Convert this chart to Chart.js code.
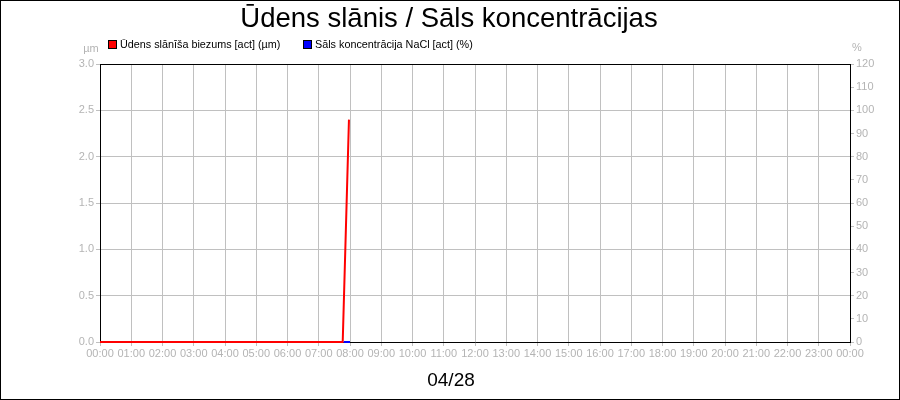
<!DOCTYPE html>
<html>
<head>
<meta charset="utf-8">
<script src="https://cdn.jsdelivr.net/npm/chart.js@4/dist/chart.umd.min.js"></script>
<style>
  html, body { margin: 0; padding: 0; background: #fff; }
  #wrap { width: 900px; height: 400px; position: relative; }
</style>
</head>
<body>
<div id="wrap"><canvas id="chart"></canvas></div>
<script>
// time in minutes from midnight
const hourLabels = ['00:00', '01:00', '02:00', '03:00', '04:00', '05:00', '06:00', '07:00',
    '08:00', '09:00', '10:00', '11:00', '12:00', '13:00', '14:00', '15:00', '16:00', '17:00',
    '18:00', '19:00', '20:00', '21:00', '22:00', '23:00', '00:00'];

const waterTimes = [0, 466, 478];
const waterValues = [0, 0, 2.4];

const saltTimes = [468, 480];
const saltValues = [0, 0];

const chartTitle = 'Ūdens slānis / Sāls koncentrācijas';
const dateLabel = '04/28';
const seriesNames = ['Ūdens slānīša biezums [act] (µm)', 'Sāls koncentrācija NaCl [act] (%)'];
const seriesColors = ['#ff0000', '#0000ff'];

const FONT = '"Liberation Sans", Arial, sans-serif';
const TICK_COLOR = '#b4b4b4';
const GRID_COLOR = '#c0c0c0';

const toPoints = (xs, ys) => xs.map((x, i) => ({ x: x, y: ys[i] }));

// title, legend, units, frame
const decorPlugin = {
    id: 'decor',
    beforeDatasetsDraw(chart) {
        const { ctx, chartArea } = chart;
        ctx.save();
        ctx.strokeStyle = '#000';
        ctx.lineWidth = 1;
        ctx.beginPath();
        ctx.moveTo(chartArea.left, chartArea.top + 0.5);
        ctx.lineTo(chartArea.right, chartArea.top + 0.5);
        ctx.stroke();
        ctx.restore();
    },
    afterDraw(chart) {
        const { ctx } = chart;
        ctx.save();
        ctx.strokeStyle = '#000';
        ctx.lineWidth = 1;
        ctx.strokeRect(0.5, 0.5, chart.width - 1, chart.height - 1);

        ctx.fillStyle = '#000';
        ctx.textAlign = 'center';
        ctx.textBaseline = 'middle';
        ctx.font = '27.5px ' + FONT;
        ctx.fillText(chartTitle, 449, 19);
        ctx.font = '19px ' + FONT;
        ctx.fillText(dateLabel, 451, 381);

        // legend
        ctx.font = '10.8px ' + FONT;
        ctx.textAlign = 'left';
        const legendX = [108, 303];
        seriesNames.forEach((name, i) => {
            ctx.fillStyle = seriesColors[i];
            ctx.fillRect(legendX[i], 40, 9, 9);
            ctx.strokeStyle = '#000';
            ctx.strokeRect(legendX[i] + 0.5, 40.5, 8, 8);
            ctx.fillStyle = '#000';
            ctx.fillText(name, legendX[i] + 12, 45);
        });

        // axis units
        ctx.fillStyle = TICK_COLOR;
        ctx.textAlign = 'center';
        ctx.font = '11px ' + FONT;
        ctx.fillText('µm', 91, 49);
        ctx.fillText('%', 857, 48);
        ctx.restore();
    }
};

new Chart(document.getElementById('chart'), {
    type: 'line',
    data: {
        datasets: [
            {
                label: seriesNames[0],
                data: toPoints(waterTimes, waterValues),
                borderColor: seriesColors[0],
                borderWidth: 2,
                pointRadius: 0,
                tension: 0,
                clip: false,
                order: 1,
                yAxisID: 'y'
            },
            {
                label: seriesNames[1],
                data: toPoints(saltTimes, saltValues),
                borderColor: seriesColors[1],
                borderWidth: 2,
                pointRadius: 0,
                tension: 0,
                clip: false,
                order: 0, // blue sits on top of the red spike's foot
                yAxisID: 'y1'
            }
        ]
    },
    options: {
        responsive: true,
        maintainAspectRatio: false,
        animation: false,
        events: [],
        layout: { padding: { top: 64, left: 0, right: 0, bottom: 0 } },
        plugins: {
            legend: { display: false },
            title: { display: false },
            tooltip: { enabled: false }
        },
        scales: {
            x: {
                type: 'linear',
                min: 0,
                max: 1440,
                afterFit: (scale) => { scale.height = 58; },
                afterBuildTicks: (scale) => {
                    scale.ticks = hourLabels.map((_, i) => ({ value: i * 60 }));
                },
                ticks: {
                    autoSkip: false,
                    maxRotation: 0,
                    padding: 1,
                    color: TICK_COLOR,
                    font: { family: FONT, size: 11 },
                    callback: (v) => hourLabels[Math.round(v / 60)]
                },
                grid: { color: GRID_COLOR, tickLength: 4, tickColor: GRID_COLOR },
                border: { color: '#000', width: 1 }
            },
            y: {
                position: 'left',
                min: 0,
                max: 3,
                afterFit: (scale) => { scale.width = 100; },
                ticks: {
                    stepSize: 0.5,
                    padding: 2,
                    color: TICK_COLOR,
                    font: { family: FONT, size: 11 },
                    callback: (v) => v.toFixed(1)
                },
                grid: { color: GRID_COLOR, tickLength: 4, tickColor: GRID_COLOR },
                border: { color: '#000', width: 1 }
            },
            y1: {
                position: 'right',
                min: 0,
                max: 120,
                afterFit: (scale) => { scale.width = 50; },
                ticks: {
                    stepSize: 10,
                    padding: 2,
                    color: TICK_COLOR,
                    font: { family: FONT, size: 11 }
                },
                grid: { drawOnChartArea: false, tickLength: 4, color: GRID_COLOR },
                border: { color: '#000', width: 1 }
            }
        }
    },
    plugins: [decorPlugin]
});
</script>
</body>
</html>
